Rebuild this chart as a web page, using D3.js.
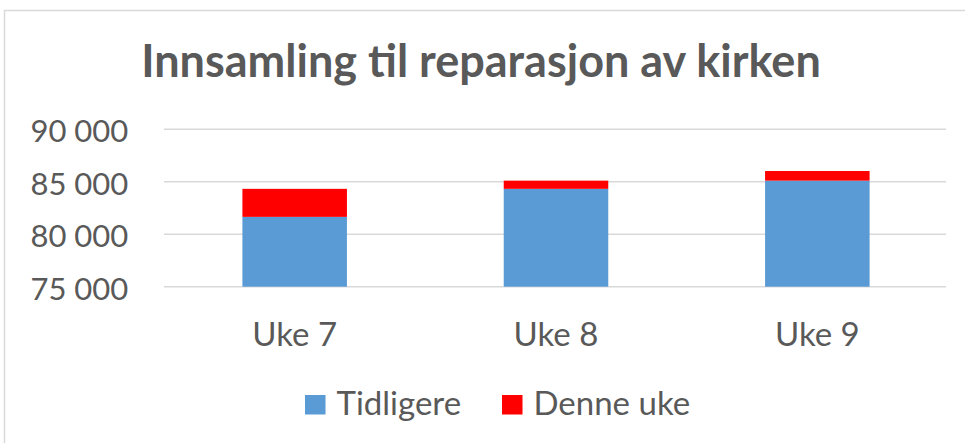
<!DOCTYPE html>
<html>
<head>
<meta charset="utf-8">
<script src="https://cdn.jsdelivr.net/npm/d3@7"></script>
<style>
  body { margin: 0; background: #fff; }
  svg { display: block; font-family: Lato, "Open Sans", sans-serif; }
</style>
</head>
<body>
<svg id="chart" width="965" height="443"></svg>
<script>
// data
var weeks = ["Uke 7", "Uke 8", "Uke 9"];
var tidligere = [81650, 84320, 85100];
var denneUke = [2670, 780, 920];
var yTicks = [75000, 80000, 85000, 90000];
var seriesNames = ["Tidligere", "Denne uke"];
var colors = ["#5b9bd5", "#ff0000"];

var svg = d3.select("#chart"),
    width = +svg.attr("width"),
    height = +svg.attr("height");

var textColor = "#595959";

// chart border
svg.append("rect")
    .attr("x", 4.5).attr("y", 10.5)
    .attr("width", width + 10).attr("height", height)
    .attr("fill", "none")
    .attr("stroke", "#d9d9d9")
    .attr("stroke-width", 1.5);

svg.append("text")
    .attr("x", 481).attr("y", 77)
    .attr("text-anchor", "middle")
    .attr("fill", textColor)
    .style("font-size", "45px")
    .style("font-weight", "bold")
    .text("Innsamling til reparasjon av kirken");

var x = d3.scaleBand()
    .domain(weeks)
    .range([164, 948])
    .paddingInner(0.6)
    .paddingOuter(0.3);

var y = d3.scaleLinear()
    .domain([75000, 90000])
    .range([286.7, 129.2]);

var fmt = function(d) { return d3.format(",")(d).replace(/,/g, " "); };

// gridlines
svg.append("g")
    .selectAll("line")
    .data(yTicks)
    .join("line")
    .attr("x1", 164).attr("x2", 946)
    .attr("y1", function(d) { return y(d); })
    .attr("y2", function(d) { return y(d); })
    .attr("stroke", "#d9d9d9")
    .attr("stroke-width", 1.5);

// y axis
var yAxis = svg.append("g")
    .attr("transform", "translate(164,0)")
    .call(d3.axisLeft(y).tickValues(yTicks).tickFormat(fmt).tickSize(0).tickPadding(35.7));
yAxis.select(".domain").remove();
yAxis.selectAll("text")
    .attr("fill", textColor)
    .attr("dy", "0.4em")
    .style("font-size", "31px")
    .style("font-family", "Lato, 'Open Sans', sans-serif");

// x axis
var xAxis = svg.append("g")
    .attr("transform", "translate(0,286.7)")
    .call(d3.axisBottom(x).tickSize(0).tickPadding(36));
xAxis.select(".domain").remove();
xAxis.selectAll("text")
    .attr("fill", textColor)
    .style("font-size", "33px")
    .style("font-family", "Lato, 'Open Sans', sans-serif");

// stacked bars
var rows = weeks.map(function(w, i) {
    return { week: w, Tidligere: tidligere[i], "Denne uke": denneUke[i] };
});
var stack = d3.stack().keys(seriesNames)(rows);

svg.append("g")
    .selectAll("g")
    .data(stack)
    .join("g")
    .attr("fill", function(d, i) { return colors[i]; })
    .selectAll("rect")
    .data(function(d) { return d; })
    .join("rect")
    .attr("x", function(d) { return x(d.data.week); })
    .attr("width", x.bandwidth())
    .attr("y", function(d) { return y(d[1]); })
    .attr("height", function(d) { return y(Math.max(d[0], 75000)) - y(d[1]); });

// legend
var legendX = [305, 502];
var legend = svg.append("g")
    .selectAll("g")
    .data(seriesNames)
    .join("g")
    .attr("transform", function(d, i) { return "translate(" + legendX[i] + ",395)"; });
legend.append("rect")
    .attr("width", 20.5).attr("height", 19.5)
    .attr("fill", function(d, i) { return colors[i]; });
legend.append("text")
    .attr("x", 31.5).attr("y", 19.5)
    .attr("fill", textColor)
    .style("font-size", "33px")
    .text(function(d) { return d; });
</script>
</body>
</html>
